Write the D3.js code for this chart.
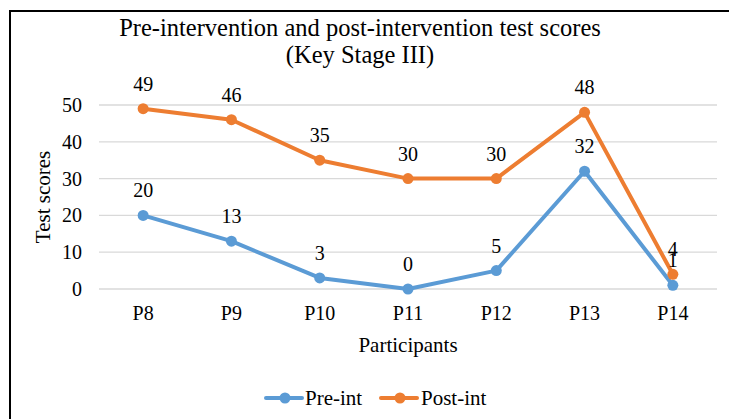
<!DOCTYPE html>
<html><head><meta charset="utf-8">
<script src="https://cdn.jsdelivr.net/npm/d3@7"></script>
<style>body{margin:0;background:#fff}svg{display:block}text{font-family:"Liberation Serif","Times New Roman",serif;fill:#000}</style>
</head><body>
<script>
const categories = ["P8","P9","P10","P11","P12","P13","P14"];
const preInt = [20,13,3,0,5,32,1];
const postInt = [49,46,35,30,30,48,4];
const yTicks = [0,10,20,30,40,50];
const seriesNames = ["Pre-int","Post-int"];
const colors = ["#5B9BD5","#ED7D31"];
const series = [preInt, postInt];

const W=729,H=419;
const svg=d3.select("body").append("svg").attr("width",W).attr("height",H);
svg.append("rect").attr("width",W).attr("height",H).attr("fill","#fff");
// frame
svg.append("line").attr("x1",10).attr("x2",W).attr("y1",11).attr("y2",11).attr("stroke","#000").attr("stroke-width",2);
svg.append("line").attr("x1",10).attr("x2",10).attr("y1",10).attr("y2",H).attr("stroke","#000").attr("stroke-width",2);

const x=d3.scaleBand().domain(categories).range([99,717]);
const y=d3.scaleLinear().domain([0,50]).range([289,105]);
const cx=(i)=>x(categories[i])+x.bandwidth()/2;

const g=svg.append("g");
g.selectAll("line.grid").data(yTicks).join("line").attr("class","grid")
 .attr("x1",99).attr("x2",717).attr("y1",d=>y(d)).attr("y2",d=>y(d))
 .attr("stroke","#d9d9d9").attr("stroke-width",1.3);

g.selectAll("text.yt").data(yTicks).join("text").attr("class","yt")
 .attr("x",82).attr("y",d=>y(d)).attr("dy","0.35em").attr("text-anchor","end")
 .attr("font-size",20).text(d=>d);
g.selectAll("text.xt").data(categories).join("text").attr("class","xt")
 .attr("x",d=>x(d)+x.bandwidth()/2).attr("y",320).attr("text-anchor","middle")
 .attr("font-size",20).text(d=>d);

svg.append("text").attr("x",360).attr("y",36).attr("text-anchor","middle").attr("font-size",24.5)
 .text("Pre-intervention and post-intervention test scores");
svg.append("text").attr("x",360).attr("y",63).attr("text-anchor","middle").attr("font-size",24.5)
 .text("(Key Stage III)");
svg.append("text").attr("x",408).attr("y",352).attr("text-anchor","middle").attr("font-size",21).text("Participants");
svg.append("text").attr("transform","translate(50,197) rotate(-90)").attr("text-anchor","middle").attr("font-size",21).text("Test scores");

const line=d3.line().x((d,i)=>cx(i)).y(d=>y(d));
series.forEach((s,k)=>{
  svg.append("path").datum(s).attr("d",line).attr("fill","none").attr("stroke",colors[k]).attr("stroke-width",4).attr("stroke-linejoin","round").attr("stroke-linecap","round");
  svg.selectAll(null).data(s).join("circle").attr("cx",(d,i)=>cx(i)).attr("cy",d=>y(d)).attr("r",5.5).attr("fill",colors[k]);
});
series.forEach((s,k)=>{
  svg.selectAll(null).data(s).join("text").attr("x",(d,i)=>cx(i)).attr("y",d=>y(d)-18)
   .attr("text-anchor","middle").attr("font-size",20).text(d=>d);
});

// legend
const leg=[{x0:266,tx:305},{x0:381,tx:421}];
seriesNames.forEach((n,k)=>{
  const L=leg[k];
  svg.append("line").attr("x1",L.x0).attr("x2",L.x0+36).attr("y1",398).attr("y2",398).attr("stroke",colors[k]).attr("stroke-width",4).attr("stroke-linecap","round");
  svg.append("circle").attr("cx",L.x0+19).attr("cy",398).attr("r",5.5).attr("fill",colors[k]);
  svg.append("text").attr("x",L.tx).attr("y",398).attr("dy","0.35em").attr("font-size",21).text(n);
});
</script>
</body></html>
